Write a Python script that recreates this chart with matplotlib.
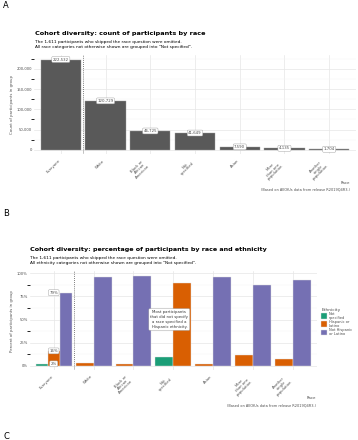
import numpy as np
import matplotlib.pyplot as plt
from matplotlib.ticker import FuncFormatter, MultipleLocator

races = ["Everyone", "White", "Black or\nAfrican\nAmerican", "Not\nspecified",
         "Asian", "More\nthan one\npopulation", "Another\nsingle\npopulation"]
counts = [222532, 120729, 46725, 41649, 7590, 4135, 1704]

ethnicities = ["Not\nspecified", "Hispanic or\nLatino", "Not Hispanic\nor Latino"]
eth_colors = ["#1B9E77", "#D95F02", "#7570B3"]
# percent per race, None = no bar
pct_not_specified = [2, None, None, 9.7, None, None, None]
pct_hispanic = [16, 3, 1.5, 90, 2, 11.6, 7.2]
pct_not_hispanic = [79, 96.5, 97.5, None, 96.5, 87.7, 92.5]
everyone_labels = ["2%", "16%", "79%"]

W, H = 358, 440
fig = plt.figure(figsize=(W / 100, H / 100), dpi=100)
plt.rcParams['font.family'] = ['DejaVu Sans']

def box(l, t, r, b):
    return [l / W, 1 - b / H, (r - l) / W, (b - t) / H]

def fy(y):
    return 1 - y / H

grey_txt = "#4D4D4D"

def style_axes(ax):
    for s in ax.spines.values():
        s.set_visible(False)
    ax.tick_params(length=0, labelsize=2.7, labelcolor=grey_txt, pad=1.5)
    ax.tick_params(axis='x', pad=3)
    ax.grid(True, which='major', color='#E6E6E6', lw=0.5)
    ax.grid(True, which='minor', axis='y', color='#F2F2F2', lw=0.3)
    ax.set_axisbelow(True)

# panel letters
fig.text(3 / W, fy(5), "A", fontsize=6, va='center', ha='left')
fig.text(3 / W, fy(214), "B", fontsize=6, va='center', ha='left')
fig.text(3 / W, fy(436), "C", fontsize=6, va='center', ha='left')

# ---------------- Panel A ----------------
x = np.arange(len(races))
axA = fig.add_axes(box(34, 55, 356, 154.5))
axA.bar(x, counts, width=0.9, color="#595959", edgecolor="#A0A0A0", lw=0.3)
axA.set_xlim(-0.6, len(races) - 0.4)
axA.set_ylim(-0.05 * max(counts), 1.05 * max(counts))
axA.yaxis.set_major_locator(MultipleLocator(50000))
axA.yaxis.set_minor_locator(MultipleLocator(25000))
axA.yaxis.set_major_formatter(FuncFormatter(lambda v, p: f"{int(v):,}"))
style_axes(axA)
axA.set_xticks(x)
axA.set_xticklabels(races, rotation=45, ha='right', va='top', multialignment='center',
                    linespacing=0.9)
axA.axvline(0.5, color="#555555", lw=0.6, ls=(0, (1, 1.5)))
for xi, c in zip(x, counts):
    axA.text(xi, c, f"{c:,}", fontsize=2.8, color=grey_txt, ha='center', va='center',
             bbox=dict(boxstyle='round,pad=0.25,rounding_size=0.3', fc='white',
                       ec='#999999', lw=0.3))
axA.set_ylabel("Count of participants in group", fontsize=2.8, color=grey_txt, labelpad=2)
fig.text(35 / W, fy(33), "Cohort diversity: count of participants by race",
         fontsize=4.65, fontweight='bold', ha='left', va='center')
fig.text(35 / W, fy(44.5), "The 1,611 participants who skipped the race question were omitted.\n"
         "All race categories not otherwise shown are grouped into \"Not specified\".",
         fontsize=3.1, ha='left', va='center', linespacing=1.1)
fig.text(350 / W, fy(183), "Race", fontsize=2.8, color=grey_txt, ha='right', va='center')
fig.text(350 / W, fy(189.5), "(Based on AllOfUs data from release R2019Q4R3.)",
         fontsize=2.5, color=grey_txt, ha='right', va='center')

# ---------------- Panel B ----------------
axB = fig.add_axes(box(29.8, 271.2, 316.8, 370.2))
series = [pct_not_specified, pct_hispanic, pct_not_hispanic]
for i in range(len(races)):
    present = [k for k in range(3) if series[k][i] is not None]
    w = 0.9 / len(present)
    for j, k in enumerate(present):
        xpos = i - 0.45 + w * (j + 0.5)
        axB.bar(xpos, series[k][i] / 100, width=w, color=eth_colors[k],
                edgecolor="#E0E0E0", lw=0.3,
                label=ethnicities[k] if i == 0 else None)
axB.set_xlim(-0.6, len(races) - 0.4)
axB.set_ylim(-0.0487, 1.023)
axB.yaxis.set_major_locator(MultipleLocator(0.25))
axB.yaxis.set_minor_locator(MultipleLocator(0.125))
axB.yaxis.set_major_formatter(FuncFormatter(lambda v, p: f"{v * 100:.0f}%"))
style_axes(axB)
axB.set_xticks(x)
axB.set_xticklabels(races, rotation=45, ha='right', va='top', multialignment='center',
                    linespacing=0.9)
axB.axvline(0.5, color="#555555", lw=0.6, ls=(0, (1, 1.5)))
for k, lab in enumerate(everyone_labels):
    axB.text(0, series[k][0] / 100, lab, fontsize=2.8, color=grey_txt, ha='center',
             va='center', zorder=5,
             bbox=dict(boxstyle='round,pad=0.25,rounding_size=0.3', fc='white',
                       ec='#999999', lw=0.3))
axB.text(2.9, 0.5, "Most participants\nthat did not specify\na race specified a\nHispanic ethnicity.",
         fontsize=2.8, color="#333333", ha='center', va='center', zorder=5, linespacing=1.3,
         bbox=dict(boxstyle='round,pad=0.4,rounding_size=0.3', fc='white',
                   ec='#999999', lw=0.3))
axB.set_ylabel("Percent of participants in group", fontsize=2.8, color=grey_txt, labelpad=2)
leg = axB.legend(title="Ethnicity", loc='upper left', bbox_to_anchor=(1.01, 0.65),
                 frameon=False, fontsize=2.6, title_fontsize=3.2, handlelength=1.6,
                 handleheight=2.0, handletextpad=0.5, labelspacing=0.1, borderpad=0)
leg._legend_box.align = "left"
for t in leg.get_texts():
    t.set_color(grey_txt)
    t.set_linespacing(0.9)
leg.get_title().set_color(grey_txt)
fig.text(30 / W, fy(249), "Cohort diversity: percentage of participants by race and ethnicity",
         fontsize=4.6, fontweight='bold', ha='left', va='center')
fig.text(30 / W, fy(260.5), "The 1,611 participants who skipped the race question were omitted.\n"
         "All ethnicity categories not otherwise shown are grouped into \"Not specified\".",
         fontsize=3.1, ha='left', va='center', linespacing=1.1)
fig.text(316 / W, fy(398), "Race", fontsize=2.8, color=grey_txt, ha='right', va='center')
fig.text(316 / W, fy(405), "(Based on AllOfUs data from release R2019Q4R3.)",
         fontsize=2.5, color=grey_txt, ha='right', va='center')

fig.savefig("out.png", dpi=100)
